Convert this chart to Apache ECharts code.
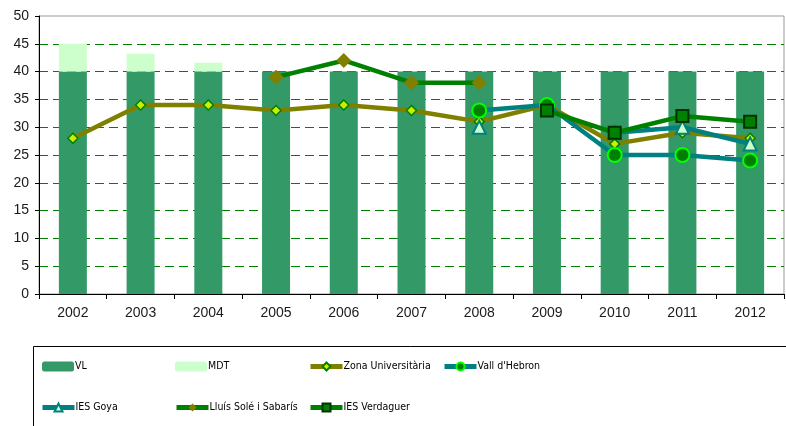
<!DOCTYPE html>
<html>
<head>
<meta charset="utf-8">
<script src="https://cdn.jsdelivr.net/npm/echarts@6/dist/echarts.min.js"></script>
<style>
  html, body { margin: 0; padding: 0; background: #fff; }
  #chart { width: 786px; height: 426px; }
</style>
</head>
<body>
<div id="chart"></div>
<script>
const years = ["2002", "2003", "2004", "2005", "2006", "2007", "2008", "2009", "2010", "2011", "2012"];
const vl = [40, 40, 40, 40, 40, 40, 40, 40, 40, 40, 40];
const mdt = [5, 3.2, 1.6, null, null, null, null, null, null, null, null];
const zonaUniversitaria = [28, 34, 34, 33, 34, 33, 31, 34, 27, 29, 28];
const vallHebron = [null, null, null, null, null, null, 33, 34, 25, 25, 24];
const iesGoya = [null, null, null, null, null, null, 30, null, 29, 30, 27];
const lluisSole = [null, null, null, 39, 42, 38, 38, null, null, null, null];
const iesVerdaguer = [null, null, null, null, null, null, null, 33, 29, 32, 31];
const yTicks = { min: 0, max: 50, interval: 5 };

const AXIS_FONT = { fontFamily: "'Liberation Sans', Arial, sans-serif", fontSize: 14, color: "#1a1a1a" };
// the original legend uses a narrow face; condensed DejaVu is the closest installed
const LEGEND_FONT = { fontFamily: "'DejaVu Sans Condensed', sans-serif", fontSize: 10.5, color: "#000" };

// gridline at 50 is hidden so the grey frame shows there, like the original
const GRID_COLORS = years.map((_, i) => (i === years.length - 1 ? "rgba(0,0,0,0)" : "#008000"));

// one legend per entry so the columns line up like the original box
const legendSlots = [
  ["VL", 42, 361], ["MDT", 175, 361], ["Zona Universitària", 308, 361], ["Vall d'Hebron", 442, 361],
  ["IES Goya", 40, 402], ["Lluís Solé i Sabarís", 174, 402], ["IES Verdaguer", 308, 402],
];

function lineSeries(name, data, color, symbol, size, fill, border, borderWidth) {
  return {
    type: "line",
    name,
    data,
    connectNulls: false,
    symbol,
    symbolSize: size,
    showAllSymbol: true,
    lineStyle: { color, width: 4.5 },
    itemStyle: { color: fill, borderColor: border, borderWidth },
    emphasis: { disabled: true },
  };
}

const chart = echarts.init(document.getElementById("chart"));
chart.setOption({
  animation: false,
  backgroundColor: "#fff",
  grid: { left: 39, right: 2, top: 16, bottom: 132, show: true, borderColor: "#999", borderWidth: 1 },
  graphic: [{
    type: "rect",
    shape: { x: 33.5, y: 346.5, width: 800, height: 120 },
    style: { fill: "none", stroke: "#000", lineWidth: 1 },
    z: -1,
  }],
  legend: legendSlots.map(([name, left, top]) => ({
    data: [name],
    left, top,
    padding: 0,
    itemWidth: 32,
    itemHeight: 10,
    selectedMode: false,
    lineStyle: { width: 5 },
    textStyle: { ...LEGEND_FONT, padding: [0, 0, 0, -4] },
  })),
  xAxis: {
    type: "category",
    data: years,
    boundaryGap: true,
    axisLine: { lineStyle: { color: "#000", width: 1 } },
    axisTick: { show: true, alignWithLabel: false, length: 5, lineStyle: { color: "#000" } },
    axisLabel: { ...AXIS_FONT, margin: 12 },
  },
  yAxis: {
    type: "value",
    ...yTicks,
    axisLine: { show: true, lineStyle: { color: "#000", width: 1 } },
    axisTick: { show: true, length: 4, lineStyle: { color: "#000" } },
    axisLabel: { ...AXIS_FONT, margin: 10 },
    splitLine: { lineStyle: { color: GRID_COLORS, type: [9, 5], width: 1 } },
  },
  series: [
    { type: "bar", name: "VL", data: vl, stack: "v", barWidth: 28, itemStyle: { color: "#339966" }, emphasis: { disabled: true } },
    { type: "bar", name: "MDT", data: mdt, stack: "v", barWidth: 28, itemStyle: { color: "#ccffcc" }, emphasis: { disabled: true } },
    lineSeries("Zona Universitària", zonaUniversitaria, "#808000", "diamond", 10, "#ccee00", "#008000", 1.5),
    lineSeries("Vall d'Hebron", vallHebron, "#008080", "circle", 14, "#008000", "#00ff00", 2),
    lineSeries("IES Goya", iesGoya, "#008080", "triangle", 13, "#ccffcc", "#008080", 2),
    lineSeries("Lluís Solé i Sabarís", lluisSole, "#008000", "diamond", 15, "#808000", "#808000", 0),
    lineSeries("IES Verdaguer", iesVerdaguer, "#008000", "rect", 12, "#008000", "#003300", 2),
  ],
});
</script>
</body>
</html>
